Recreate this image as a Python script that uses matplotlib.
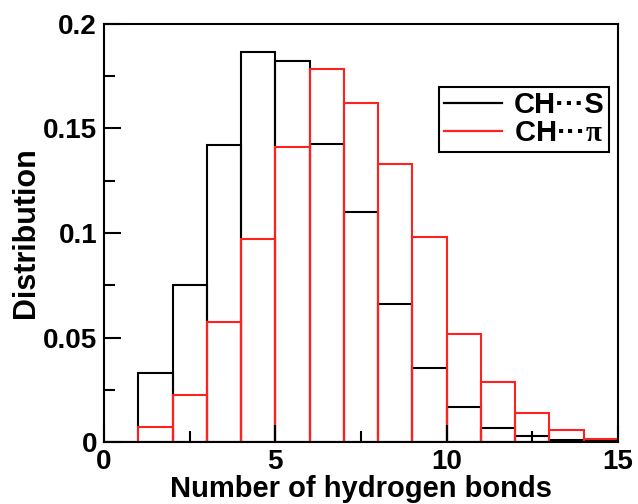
import matplotlib
matplotlib.use('Agg')
import matplotlib.pyplot as plt
from matplotlib.ticker import MultipleLocator
from matplotlib.lines import Line2D

# Bordes de los bins (número de enlaces de hidrógeno)
bin_left = [0, 1, 2, 3, 4, 5, 6, 7, 8, 9, 10, 11, 12, 13, 14]

# Distribuciones
dist_ch_s = [0.0, 0.0332, 0.0749, 0.1421, 0.1865, 0.1825, 0.1424, 0.1099,
             0.0661, 0.0356, 0.0168, 0.0067, 0.0027, 0.0011, 0.0003]
dist_ch_pi = [0.0, 0.0072, 0.0224, 0.0572, 0.0971, 0.1411, 0.1785, 0.1624,
              0.1331, 0.0980, 0.0519, 0.0287, 0.0141, 0.0056, 0.0016]

etiquetas = ['CH\u00b7\u00b7\u00b7S', 'CH\u00b7\u00b7\u00b7$\\mathrm{\\pi}$']
y_ticks = [0, 0.05, 0.1, 0.15, 0.2]
y_ticklabels = ['0', '0.05', '0.1', '0.15', '0.2']

plt.rcParams['font.family'] = ['Liberation Sans', 'DejaVu Sans']
plt.rcParams['font.weight'] = 'bold'
plt.rcParams['mathtext.fontset'] = 'custom'
plt.rcParams['mathtext.rm'] = 'Liberation Serif'
plt.rcParams['mathtext.it'] = 'Liberation Serif'

fig = plt.figure(figsize=(6.38, 5.04), dpi=100)
ax = fig.add_axes([104 / 638, 1 - 442 / 504, 514 / 638, 418 / 504])

ax.bar(bin_left, dist_ch_s, width=1.0, align='edge', fill=False,
       edgecolor='black', linewidth=1.5)
ax.bar(bin_left, dist_ch_pi, width=1.0, align='edge', fill=False,
       edgecolor='#ff2020', linewidth=1.5)

ax.set_xlim(0, 15)
ax.set_ylim(0, 0.2)
ax.xaxis.set_major_locator(MultipleLocator(5))
ax.xaxis.set_minor_locator(MultipleLocator(2.5))
ax.yaxis.set_minor_locator(MultipleLocator(0.025))
ax.set_yticks(y_ticks)
ax.set_yticklabels(y_ticklabels)

ax.tick_params(which='both', direction='in', width=1.5, labelsize=20)
ax.tick_params(which='major', length=12, pad=5)
ax.tick_params(which='minor', length=8)
for sp in ax.spines.values():
    sp.set_linewidth(1.5)

ax.set_xlabel('Number of hydrogen bonds', fontsize=21, fontweight='bold', labelpad=0)
ax.set_ylabel('Distribution', fontsize=22, fontweight='bold', labelpad=1.5)

# Leyenda con líneas
handles = [Line2D([], [], color='black', linewidth=1.6),
           Line2D([], [], color='#ff2020', linewidth=1.6)]
leg = ax.legend(handles, etiquetas,
                loc='upper right', bbox_to_anchor=(0.982, 0.849), borderaxespad=0,
                fancybox=False, framealpha=1, edgecolor='black',
                handlelength=2.0, handletextpad=0.4, labelspacing=0.0,
                borderpad=0.15, prop={'weight': 'bold', 'size': 21})
leg.get_frame().set_linewidth(1.5)

fig.savefig('out.png', dpi=100)
